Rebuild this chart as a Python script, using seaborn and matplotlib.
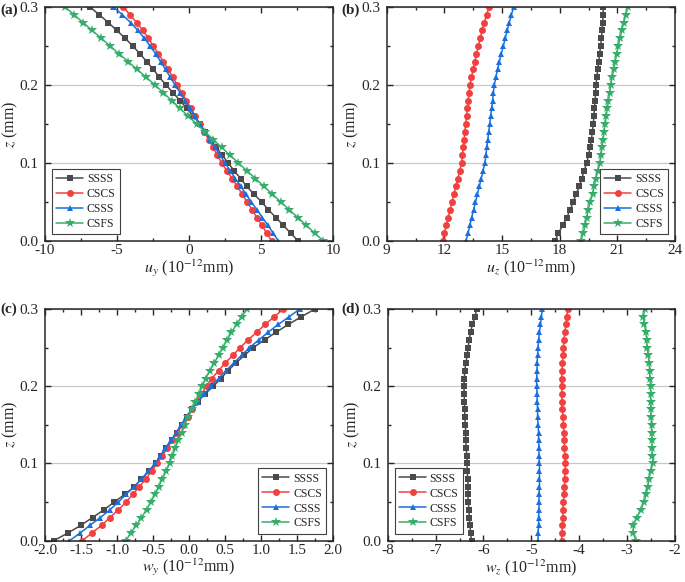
import numpy as np
import pandas as pd
import matplotlib
matplotlib.use("Agg")
import matplotlib.pyplot as plt
from matplotlib.ticker import MultipleLocator
import seaborn as sns

sns.set_style("ticks")
plt.rcParams["font.family"] = ["Liberation Serif", "DejaVu Serif"]
plt.rcParams["mathtext.fontset"] = "stix"
plt.rcParams["axes.unicode_minus"] = False

cases = ["SSSS", "CSCS", "CSSS", "CSFS"]
colors = ["#4a4a4a", "#f14040", "#1a6fdf", "#37ad6b"]
markers = ["s", "o", "^", "*"]

z = [0.00, 0.01, 0.02, 0.03, 0.04, 0.05, 0.06, 0.07, 0.08, 0.09, 0.10,
     0.11, 0.12, 0.13, 0.14, 0.15, 0.16, 0.17, 0.18, 0.19, 0.20,
     0.21, 0.22, 0.23, 0.24, 0.25, 0.26, 0.27, 0.28, 0.29, 0.30]

# (a) u_y
uy_ssss = [7.59, 7.06, 6.55, 6.04, 5.51, 5.05, 4.52, 4.0, 3.59, 3.13, 2.73,
           2.3, 1.88, 1.5, 1.12, 0.75, 0.3, -0.15, -0.63, -1.1, -1.6,
           -2.06, -2.48, -2.94, -3.4, -3.91, -4.44, -5.02, -5.6, -6.23, -6.88]
uy_cscs = [5.74, 5.4, 5.06, 4.72, 4.38, 4.04, 3.7, 3.35, 3.0, 2.64, 2.27,
           1.97, 1.67, 1.37, 1.06, 0.75, 0.44, 0.13, -0.18, -0.5, -0.81,
           -1.13, -1.44, -1.78, -2.13, -2.48, -2.82, -3.22, -3.63, -4.10, -4.56]
uy_csss = [6.2, 5.85, 5.48, 5.1, 4.72, 4.33, 3.95, 3.6, 3.22, 2.86, 2.5,
           2.15, 1.8, 1.45, 1.1, 0.75, 0.41, 0.07, -0.27, -0.62, -0.97,
           -1.3, -1.63, -1.97, -2.32, -2.7, -3.1, -3.55, -4.05, -4.62, -5.26]
uy_csfs = [9.33, 8.74, 8.15, 7.56, 6.97, 6.38, 5.79, 5.2, 4.61, 4.02, 3.43,
           2.85, 2.27, 1.69, 1.11, 0.53, -0.05, -0.63, -1.2, -1.78, -2.36,
           -2.98, -3.61, -4.23, -4.86, -5.48, -6.1, -6.73, -7.35, -7.98, -8.6]

# (b) u_z
uz_ssss = [17.76, 17.93, 18.16, 18.37, 18.54, 18.71, 18.85, 19.03, 19.15, 19.27, 19.41,
           19.5, 19.58, 19.65, 19.7, 19.75, 19.78, 19.81, 19.84, 19.87, 19.89,
           19.93, 19.98, 20.03, 20.08, 20.13, 20.17, 20.21, 20.24, 20.26, 20.27]
uz_cscs = [11.91, 12.0, 12.1, 12.2, 12.3, 12.4, 12.5, 12.6, 12.7, 12.8, 12.9,
           12.94, 12.99, 13.03, 13.07, 13.11, 13.16, 13.2, 13.24, 13.29, 13.33,
           13.41, 13.5, 13.58, 13.67, 13.77, 13.87, 13.97, 14.08, 14.2, 14.32]
uz_csss = [13.13, 13.23, 13.33, 13.42, 13.52, 13.62, 13.72, 13.82, 13.92, 14.01, 14.11,
           14.16, 14.21, 14.26, 14.31, 14.36, 14.41, 14.46, 14.51, 14.55, 14.6,
           14.68, 14.77, 14.86, 14.96, 15.07, 15.17, 15.27, 15.38, 15.49, 15.6]
uz_csfs = [19.1, 19.23, 19.32, 19.4, 19.49, 19.58, 19.72, 19.79, 19.89, 19.98, 20.1,
           20.15, 20.2, 20.26, 20.31, 20.37, 20.42, 20.48, 20.54, 20.6, 20.65,
           20.73, 20.81, 20.89, 20.97, 21.05, 21.14, 21.23, 21.33, 21.44, 21.55]

# (c) w_y
wy_ssss = [-1.88, -1.68, -1.5, -1.34, -1.18, -1.04, -0.89, -0.76, -0.66, -0.55, -0.46,
           -0.39, -0.32, -0.24, -0.17, -0.10, -0.03, 0.04, 0.12, 0.22, 0.34,
           0.44, 0.54, 0.65, 0.77, 0.89, 1.05, 1.21, 1.38, 1.56, 1.75]
wy_cscs = [-1.48, -1.35, -1.21, -1.10, -0.98, -0.875, -0.78, -0.69, -0.6, -0.52, -0.44,
           -0.37, -0.30, -0.23, -0.16, -0.09, -0.02, 0.04, 0.10, 0.17, 0.245,
           0.315, 0.41, 0.5, 0.61, 0.71, 0.82, 0.94, 1.056, 1.185, 1.31]
wy_csss = [-1.66, -1.51, -1.375, -1.23, -1.10, -0.98, -0.875, -0.76, -0.66, -0.565, -0.47,
           -0.40, -0.33, -0.25, -0.18, -0.11, -0.04, 0.04, 0.12, 0.21, 0.31,
           0.41, 0.51, 0.62, 0.73, 0.84, 0.97, 1.1, 1.24, 1.39, 1.54]
wy_csfs = [-0.875, -0.81, -0.73, -0.66, -0.59, -0.53, -0.47, -0.42, -0.37, -0.32, -0.27,
           -0.23, -0.19, -0.15, -0.10, -0.06, -0.01, 0.04, 0.09, 0.14, 0.185,
           0.23, 0.29, 0.35, 0.41, 0.47, 0.53, 0.59, 0.66, 0.73, 0.81]

# (d) w_z
wz_ssss = [-6.25, -6.27, -6.28, -6.30, -6.30, -6.32, -6.32, -6.32, -6.33, -6.34, -6.34,
           -6.35, -6.36, -6.37, -6.37, -6.38, -6.39, -6.39, -6.40, -6.40, -6.41,
           -6.40, -6.39, -6.37, -6.34, -6.32, -6.30, -6.27, -6.23, -6.18, -6.14]
wz_cscs = [-4.37, -4.36, -4.35, -4.34, -4.34, -4.33, -4.32, -4.31, -4.30, -4.30, -4.29,
           -4.30, -4.31, -4.31, -4.32, -4.33, -4.34, -4.35, -4.36, -4.36, -4.37,
           -4.37, -4.36, -4.35, -4.34, -4.33, -4.32, -4.30, -4.28, -4.26, -4.24]
wz_csss = [-4.86, -4.86, -4.85, -4.85, -4.84, -4.84, -4.84, -4.83, -4.83, -4.83, -4.83,
           -4.84, -4.84, -4.85, -4.85, -4.86, -4.87, -4.87, -4.88, -4.88, -4.89,
           -4.89, -4.88, -4.88, -4.87, -4.86, -4.85, -4.83, -4.81, -4.79, -4.77]
wz_csfs = [-2.82, -2.87, -2.87, -2.80, -2.71, -2.65, -2.60, -2.57, -2.54, -2.51, -2.46,
           -2.47, -2.48, -2.48, -2.49, -2.49, -2.50, -2.50, -2.51, -2.51, -2.51,
           -2.52, -2.53, -2.54, -2.56, -2.58, -2.59, -2.61, -2.64, -2.66, -2.63]


def long_frame(series):
    rows = []
    for case, vals in zip(cases, series):
        rows.append(pd.DataFrame({"case": case, "val": vals, "z": z}))
    return pd.concat(rows, ignore_index=True)


def panel(ax, series, xlim, xmajor, xlabel, tag, tag_pos, legloc):
    df = long_frame(series)
    sns.lineplot(ax=ax, data=df, x="val", y="z", hue="case", style="case",
                 hue_order=cases, style_order=cases,
                 palette=colors, markers=markers, dashes=False,
                 orient="y", sort=False, legend=False,
                 linewidth=1.1, markersize=5, markeredgewidth=0)
    for line, m in zip(ax.get_lines(), markers):
        if m == "*":
            line.set_markersize(7)
    ax.set_xlim(*xlim)
    ax.set_ylim(0, 0.3)
    ax.xaxis.set_major_locator(MultipleLocator(xmajor))
    ax.xaxis.set_minor_locator(MultipleLocator(xmajor / 2))
    ax.yaxis.set_major_locator(MultipleLocator(0.1))
    ax.yaxis.set_minor_locator(MultipleLocator(0.05))
    ax.yaxis.set_major_formatter(plt.FormatStrFormatter("%.1f"))
    ax.tick_params(which="both", direction="in", top=True, right=True,
                   labelsize=11, width=1)
    ax.tick_params(axis="y", which="major", pad=4.5)
    ax.tick_params(axis="x", which="major", pad=2.5)
    ax.tick_params(which="major", length=4)
    ax.tick_params(which="minor", length=2.5)
    ax.yaxis.grid(True, color="#c8c8c8", linewidth=0.9)
    ax.set_axisbelow(True)
    for sp in ax.spines.values():
        sp.set_linewidth(1.1)
    ax.set_xlabel(xlabel, fontsize=11.5, labelpad=0)
    ax.set_ylabel(r"$z$ (mm)", fontsize=11.5)
    ax.yaxis.set_label_coords(-0.088, 0.5)
    leg = ax.legend(ax.get_lines()[:4], cases, loc=legloc, fontsize=8.5,
                    fancybox=False, framealpha=1, edgecolor="#404040",
                    handlelength=2.3, borderpad=0.35, labelspacing=0.25,
                    borderaxespad=0.6, handletextpad=0.3)
    leg.get_frame().set_linewidth(0.8)
    fig.text(tag_pos[0], tag_pos[1], tag, fontsize=11, fontweight="bold",
             va="center", ha="left")


fig = plt.figure(figsize=(6.85, 5.82), dpi=100)
ax_a = fig.add_axes([0.0657, 0.586, 0.4204, 0.402])
ax_b = fig.add_axes([0.5645, 0.586, 0.4209, 0.402])
ax_c = fig.add_axes([0.0657, 0.0710, 0.4204, 0.398])
ax_d = fig.add_axes([0.5660, 0.0710, 0.4194, 0.398])

panel(ax_a, [uy_ssss, uy_cscs, uy_csss, uy_csfs], (-10, 10), 5,
      r"$u_y$ (10$^{-12}$mm)", "(a)", (0.0, 0.983), "lower left")
panel(ax_b, [uz_ssss, uz_cscs, uz_csss, uz_csfs], (9, 24), 3,
      r"$u_z$ (10$^{-12}$mm)", "(b)", (0.499, 0.983), "lower right")
panel(ax_c, [wy_ssss, wy_cscs, wy_csss, wy_csfs], (-2, 2), 0.5,
      r"$w_y$ (10$^{-12}$mm)", "(c)", (0.0, 0.469), "lower right")
panel(ax_d, [wz_ssss, wz_cscs, wz_csss, wz_csfs], (-8, -2), 1,
      r"$w_z$ (10$^{-12}$mm)", "(d)", (0.499, 0.469), "lower left")

fig.savefig("out.png", dpi=100)
